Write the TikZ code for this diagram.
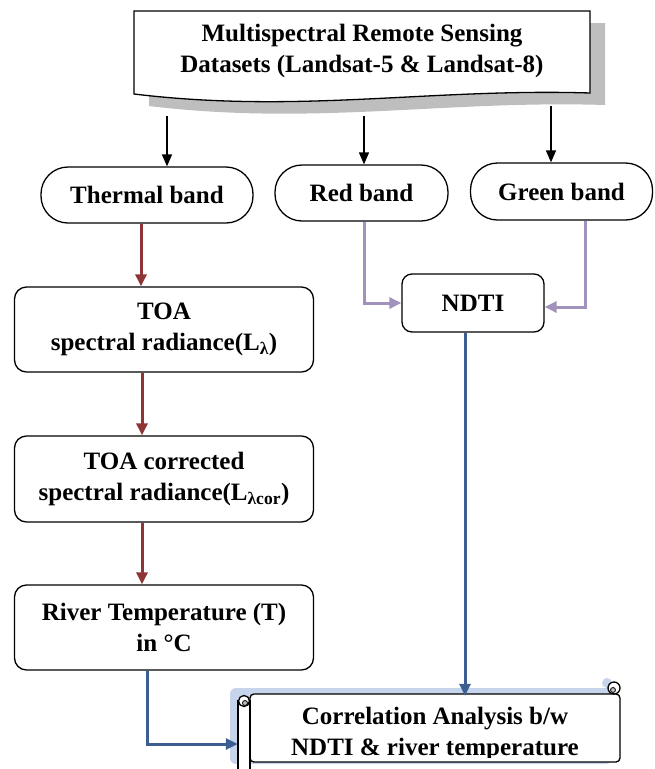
\documentclass[tikz,border=0pt]{standalone}
\usepackage{fontspec}
\setmainfont{Liberation Serif}
\usetikzlibrary{arrows.meta}
\definecolor{flowred}{RGB}{142,54,54}
\definecolor{flowlav}{RGB}{160,146,188}
\definecolor{flowblue}{RGB}{60,94,144}
\definecolor{docshade}{RGB}{190,190,190}
\definecolor{scrollshade}{RGB}{198,212,236}

\begin{document}
\begin{tikzpicture}[x=1pt,y=1pt,yscale=-1,xscale=1,
  lbl/.style={font=\bfseries\fontsize{25}{31}\selectfont, align=center, inner sep=0pt},
  pill/.style={lbl, draw, line width=1.3pt, rounded corners=27pt},
  procbox/.style={lbl, draw, line width=1.3pt, rounded corners=12pt},
  blackarr/.style={line width=1.5pt, -{Triangle[length=12pt,width=10pt]}},
  redarr/.style={draw=flowred, line width=3pt, -{Triangle[length=12pt,width=11pt]}},
  lavarr/.style={draw=flowlav, line width=3pt, -{Triangle[length=12pt,width=11pt]}},
  bluearr/.style={draw=flowblue, line width=3pt, -{Triangle[length=12pt,width=11pt]}}]
\useasboundingbox (0,0) rectangle (654,769);

% document shape with shadow
\fill[docshade] (149,23) -- (605,23) -- (605,105) .. controls (445,100) and (315,126) .. (149,106) -- cycle;
\draw[fill=white, line width=1.3pt] (134,11) -- (590,11) -- (590,93) .. controls (430,88) and (300,114) .. (134,94) -- cycle;
\node[lbl] (data) at (362,51) {Multispectral Remote Sensing\\Datasets (Landsat-5 \& Landsat-8)};
\coordinate (a1) at (167,116);
\coordinate (a2) at (364,116);
\coordinate (a3) at (551,106);

% bands
\node[pill, minimum width=212pt, minimum height=56pt] (thermal) at (147,195) {Thermal band};
\node[pill, minimum width=173pt, minimum height=56pt] (red) at (361.5,193) {Red band};
\node[pill, minimum width=182pt, minimum height=57pt] (green) at (561.5,191.5) {Green band};

% processing boxes
\node[procbox, minimum width=299pt, minimum height=85pt] (toa) at (164,329.5) {TOA\\spectral radiance(L\textsubscript{λ})};
\node[procbox, minimum width=299pt, minimum height=86pt] (toacor) at (164,479) {TOA corrected\\spectral radiance(L\textsubscript{λcor})};
\node[procbox, minimum width=299pt, minimum height=85pt] (rivert) at (164,627.5) {River Temperature (T)\\in °C};
\node[procbox, rounded corners=10pt, minimum width=142pt, minimum height=58pt] (ndti) at (473,303) {NDTI};

% scroll
\fill[scrollshade, rounded corners=6pt] (230,688) rectangle (612,764);
\fill[scrollshade] (607,683) circle (5);
\draw[fill=white, line width=1.3pt, rounded corners=4pt] (250,694) rectangle (620,762);
\draw[fill=white, line width=1.3pt] (614,688) circle (6);
\draw[fill=docshade, line width=0.8pt] (613,690) circle (2.5);
\draw[fill=white, line width=1.3pt] (238,701) rectangle (250,775);
\draw[fill=white, line width=1.3pt] (244,701) circle (5.5);
\draw[fill=docshade, line width=0.8pt] (245,703) circle (2.5);
\begin{scope}
\clip (0,0) rectangle (654,757);
\node[lbl, minimum width=370pt, minimum height=66pt] (corr) at (435,729) {\rule{0pt}{28pt}Correlation Analysis b/w\\NDTI \& river temperature};
\end{scope}

% connectors
\draw[blackarr] (a1) -- (thermal.north -| a1);
\draw[blackarr] (a2) -- (red.north -| a2);
\draw[blackarr] (a3) -- (green.north -| a3);
\draw[redarr] ([xshift=-6pt]thermal.south) -- ([xshift=-6pt]thermal.south |- toa.north);
\draw[redarr] ([xshift=-22pt]toa.south) -- ([xshift=-22pt]toacor.north);
\draw[redarr] ([xshift=-22pt]toacor.south) -- ([xshift=-22pt]rivert.north);
\draw[lavarr] ([xshift=2.5pt]red.south) |- (ndti.west);
\draw[lavarr] ([xshift=23.5pt]green.south) |- ([yshift=4pt]ndti.east);
\draw[bluearr] ([xshift=-8pt]ndti.south) -- ([xshift=-8pt]ndti.south |- corr.north);
\draw[bluearr] ([xshift=-17pt]rivert.south) |- ([xshift=-12pt,yshift=15pt]corr.west);
\end{tikzpicture}
\end{document}
